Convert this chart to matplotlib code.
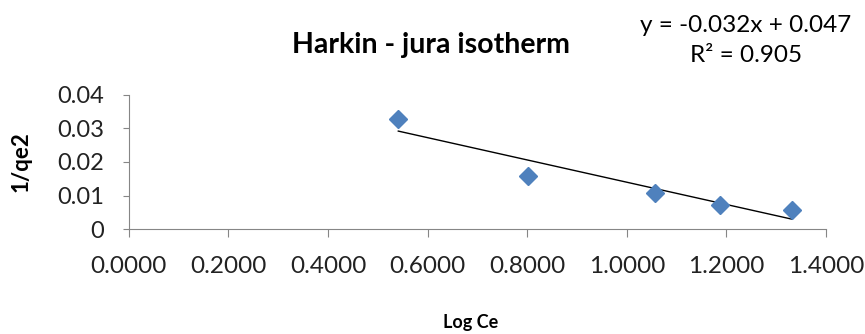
import matplotlib.pyplot as plt
from matplotlib.ticker import FuncFormatter
import numpy as np

log_ce = [0.541, 0.801, 1.056, 1.187, 1.332]
inv_qe2 = [0.0329, 0.0159, 0.0108, 0.0072, 0.0058]
x_ticks = [0.0, 0.2, 0.4, 0.6, 0.8, 1.0, 1.2, 1.4]
y_ticks = [0, 0.01, 0.02, 0.03, 0.04]

plt.rcParams['font.family'] = ['Lato', 'DejaVu Sans']

fig = plt.figure(figsize=(8.65, 3.34), dpi=100)
ax = fig.add_axes([0.149, 0.314, 0.806, 0.402])

# linear trendline over the data range
slope, intercept = np.polyfit(log_ce, inv_qe2, 1)
xs = np.array([min(log_ce), max(log_ce)])
ax.plot(xs, slope * xs + intercept, c='black', lw=1)
ax.plot(log_ce, inv_qe2, ls='none', marker='D', ms=9.5, c='#4F81BD')

ax.set_xlim(0, 1.4)
ax.set_ylim(0, 0.04)
ax.set_xticks(x_ticks)
ax.set_yticks(y_ticks)
ax.xaxis.set_major_formatter(FuncFormatter(lambda v, p: f'{v:.4f}'))
ax.yaxis.set_major_formatter(FuncFormatter(lambda v, p: '0' if v == 0 else f'{v:.2f}'))

for s in ['top', 'right']:
    ax.spines[s].set_visible(False)
for s in ['left', 'bottom']:
    ax.spines[s].set_color('#868686')
ax.tick_params(axis='x', length=6, color='#868686', pad=13, labelsize=17.5, labelcolor='#222222')
ax.tick_params(axis='y', length=4, color='#868686', pad=14, labelsize=17, labelcolor='#222222')

ax.set_xlabel('Log Ce', fontsize=13, fontweight='bold')
ax.xaxis.set_label_coords(0.49, -0.63)
ax.set_ylabel('1/qe2', fontsize=16, fontweight='bold')
ax.yaxis.set_label_coords(-0.14, 0.5)

fig.text(0.498, 0.865, 'Harkin - jura isotherm', ha='center', va='center',
         fontsize=20.5, fontweight='bold')
fig.text(0.862, 0.925, 'y = -0.032x + 0.047', ha='center', va='center', fontsize=17.5)
fig.text(0.862, 0.835, 'R² = 0.905', ha='center', va='center', fontsize=17.5)

fig.savefig('out.png', dpi=100)
